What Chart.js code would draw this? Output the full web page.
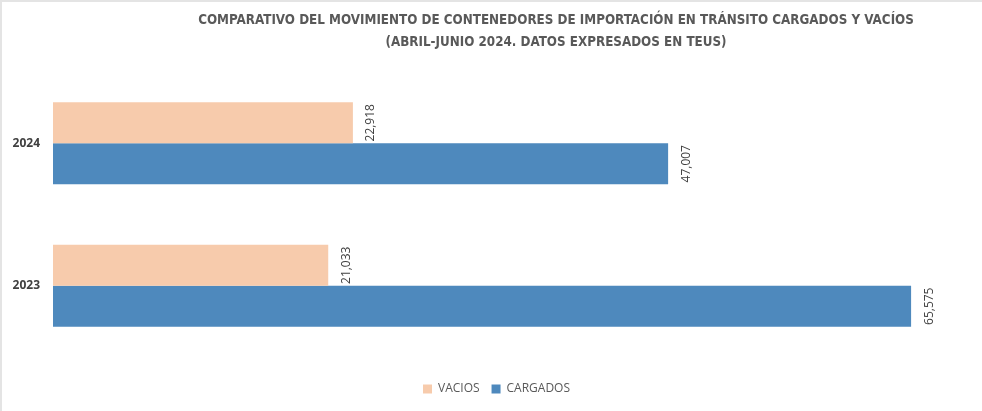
<!DOCTYPE html>
<html lang="es">
<head>
    <meta charset="UTF-8">
    <title>Contenedores en tránsito</title>
    <style>
        html, body { margin: 0; padding: 0; background: #fff; }
        body { width: 982px; height: 411px; overflow: hidden; }
        #wrap { position: relative; width: 980px; height: 409px; border-left: 2px solid #e4e4e4; border-top: 2px solid #e4e4e4; }
    </style>
</head>
<body>
    <div id="wrap">
        <canvas id="chart" width="980" height="409"></canvas>
    </div>

    <script src="https://cdn.jsdelivr.net/npm/chart.js"></script>
    <script>
        // datos (TEUs, abril-junio)
        const years = ['2024', '2023'];
        const vacios = [22918, 21033];
        const cargados = [47007, 65575];
        const seriesNames = ['VACIOS', 'CARGADOS'];
        const titleLines = [
            'COMPARATIVO DEL MOVIMIENTO DE CONTENEDORES DE IMPORTACIÓN EN TRÁNSITO CARGADOS Y VACÍOS',
            '(ABRIL-JUNIO 2024. DATOS EXPRESADOS EN TEUS)'
        ];

        const fmt = v => v.toLocaleString('en-US');

        // titulo dibujado a mano para poder desplazarlo como en Excel
        const titlePlugin = {
            id: 'excelTitle',
            afterDraw(chart) {
                const ctx = chart.ctx;
                ctx.save();
                ctx.fillStyle = '#595959';
                ctx.textAlign = 'center';
                ctx.textBaseline = 'middle';
                ctx.font = 'bold 13.3px "Liberation Sans Narrow", "DejaVu Sans Condensed", sans-serif';
                ctx.fillText(titleLines[0], 554, 19);
                ctx.fillText(titleLines[1], 554, 41);
                ctx.restore();
            }
        };

        // la leyenda de Excel queda un poco a la derecha del centro
        const legendShift = {
            id: 'legendShift',
            afterLayout(chart) {
                chart.legend.left += 11;
                chart.legend.right += 11;
            }
        };

        // etiquetas de valor giradas, a la derecha de cada barra
        const valueLabels = {
            id: 'valueLabels',
            afterDatasetsDraw(chart) {
                const ctx = chart.ctx;
                ctx.save();
                ctx.fillStyle = '#404040';
                ctx.font = '12px "Open Sans", sans-serif';
                ctx.textAlign = 'center';
                ctx.textBaseline = 'middle';
                chart.data.datasets.forEach((ds, i) => {
                    chart.getDatasetMeta(i).data.forEach((bar, j) => {
                        ctx.save();
                        ctx.translate(bar.x + 18, bar.y);
                        ctx.rotate(-Math.PI / 2);
                        ctx.fillText(fmt(ds.data[j]), 0, 0);
                        ctx.restore();
                    });
                });
                ctx.restore();
            }
        };

        new Chart(document.getElementById('chart'), {
            type: 'bar',
            data: {
                labels: years,
                datasets: [{
                    label: seriesNames[0],
                    data: vacios,
                    backgroundColor: '#F7CBAC'
                }, {
                    label: seriesNames[1],
                    data: cargados,
                    backgroundColor: '#4E89BD'
                }]
            },
            options: {
                indexAxis: 'y',
                responsive: false,
                animation: false,
                layout: { padding: { top: 70, right: 13, bottom: 6, left: 0 } },
                datasets: {
                    bar: { barPercentage: 1, categoryPercentage: 0.575 }
                },
                scales: {
                    x: {
                        min: 0,
                        max: 70000,
                        grid: { display: false },
                        border: { display: false },
                        ticks: { display: false },
                        afterFit(scale) { scale.height = 14; }
                    },
                    y: {
                        grid: { display: false },
                        border: { display: false },
                        ticks: {
                            color: '#404040',
                            font: { family: '"Open Sans", sans-serif', size: 12, weight: 'bold' },
                            padding: 5
                        },
                        afterFit(scale) { scale.width = 51; }
                    }
                },
                plugins: {
                    title: { display: false },
                    tooltip: { enabled: false },
                    legend: {
                        position: 'bottom',
                        labels: {
                            color: '#595959',
                            font: { family: '"Open Sans", sans-serif', size: 12 },
                            boxWidth: 9,
                            boxHeight: 9,
                            padding: 12
                        }
                    }
                }
            },
            plugins: [titlePlugin, legendShift, valueLabels]
        });
    </script>
</body>
</html>
